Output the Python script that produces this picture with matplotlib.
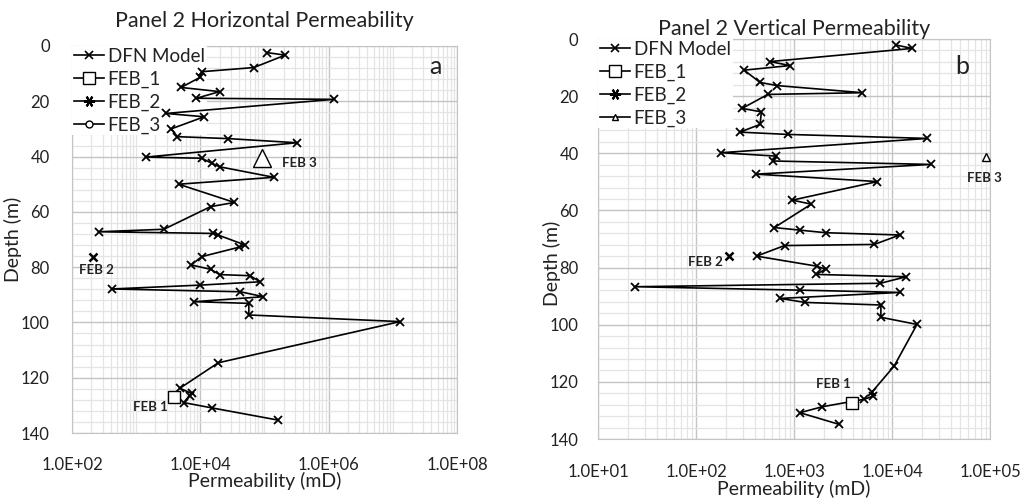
import numpy as np
import matplotlib.pyplot as plt
from matplotlib.lines import Line2D
from matplotlib.ticker import LogLocator, MultipleLocator, FuncFormatter, NullFormatter

plt.rcParams['font.family'] = ['Lato', 'DejaVu Sans']

# -------------------------------------------------------------------------
# Panel a: horizontal permeability (mD) vs depth (m)
# -------------------------------------------------------------------------
depth_h = [2.4, 3.3, 7.8, 9.3, 11.3, 15.0, 16.5, 18.9, 19.3, 24.4, 25.6, 30.0,
           32.8, 33.5, 35.0, 40.2, 40.6, 42.4, 43.7, 47.5, 50.0, 56.6, 58.1,
           66.3, 67.2, 67.8, 68.4, 72.0, 72.8, 76.2, 79.2, 80.8, 82.7, 83.1,
           85.3, 86.5, 87.9, 88.9, 90.7, 92.5, 93.1, 97.3, 99.7, 114.6, 123.8,
           125.7, 126.5, 129.0, 130.9, 135.3]
perm_h = [1.1e5, 2.1e5, 6.8e4, 1.05e4, 1.0e4, 5.0e3, 2.0e4, 8.7e3, 1.2e6, 2.9e3,
          1.15e4, 3.5e3, 4.4e3, 2.7e4, 3.2e5, 1.4e3, 1.05e4, 1.5e4, 2.0e4, 1.4e5,
          4.6e3, 3.4e4, 1.45e4, 2.7e3, 260, 1.6e4, 1.9e4, 5.0e4, 4.0e4, 1.05e4,
          7.2e3, 1.45e4, 2.0e4, 6.0e4, 8.5e4, 1.0e4, 415, 4.2e4, 9.6e4, 8.1e3,
          5.7e4, 5.7e4, 1.3e7, 1.9e4, 4.8e3, 7.3e3, 6.8e3, 5.5e3, 1.5e4, 1.6e5]
feb_h = {'FEB_1': (3.9e3, 127.0), 'FEB_2': (210, 76.2), 'FEB_3': (9.3e4, 40.5)}
xticks_h = [1e2, 1e4, 1e6, 1e8]

# -------------------------------------------------------------------------
# Panel b: vertical permeability (mD) vs depth (m)
# -------------------------------------------------------------------------
depth_v = [2.1, 3.3, 7.9, 9.3, 10.9, 15.2, 16.3, 18.8, 19.4, 24.3, 25.5, 29.9,
           32.6, 33.4, 34.8, 39.8, 41.0, 42.7, 43.9, 47.3, 49.9, 56.4, 57.8,
           66.0, 66.9, 67.8, 68.6, 71.9, 72.3, 76.0, 79.5, 80.6, 82.4, 83.2,
           85.5, 86.7, 87.9, 88.7, 90.8, 92.2, 93.1, 97.4, 99.9, 114.5, 123.7,
           125.0, 126.1, 128.7, 130.8, 134.9]
perm_v = [1.1e4, 1.6e4, 570, 910, 310, 450, 670, 5.0e3, 540, 295, 465, 450,
          280, 870, 2.3e4, 180, 660, 610, 2.5e4, 410, 7.1e3, 960, 1500, 630,
          1150, 2100, 1.2e4, 6.6e3, 800, 415, 1700, 2100, 1670, 1.4e4, 7.6e3,
          24, 1150, 1.2e4, 720, 1300, 7.7e3, 7.7e3, 1.8e4, 1.05e4, 6.2e3,
          6.4e3, 5.2e3, 1950, 1150, 2900]
feb_v = {'FEB_1': (3.9e3, 127.3), 'FEB_2': (215, 75.8), 'FEB_3': (9.1e4, 41.4)}
xticks_v = [1e1, 1e2, 1e3, 1e4, 1e5]

FIG_W, FIG_H = 1023, 499
TXT = '#222222'
fig = plt.figure(figsize=(FIG_W / 100, FIG_H / 100), dpi=100)


def px_box(left, top, right, bottom):
    return [left / FIG_W, 1 - bottom / FIG_H, (right - left) / FIG_W, (bottom - top) / FIG_H]


def sci(v, pos):
    e = int(round(np.log10(v)))
    return f"1.0E+{e:02d}"


def style_axes(ax, xticks, xpad, ypad):
    ax.set_xscale('log')
    ax.set_xlim(xticks[0], xticks[-1])
    ax.set_ylim(140, 0)
    ax.set_xticks(xticks)
    ax.xaxis.set_minor_locator(LogLocator(base=10, subs=np.arange(1, 10), numticks=80))
    ax.xaxis.set_major_formatter(FuncFormatter(sci))
    ax.xaxis.set_minor_formatter(NullFormatter())
    ax.yaxis.set_major_locator(MultipleLocator(20))
    ax.yaxis.set_minor_locator(MultipleLocator(4))
    ax.grid(which='minor', color='#e4e4e4', lw=0.9)
    ax.grid(which='major', color='#c4c4c4', lw=1.0)
    ax.set_axisbelow(True)
    for s in ax.spines.values():
        s.set_color('#c4c4c4')
    ax.tick_params(which='both', length=0, labelsize=12, colors=TXT)
    ax.tick_params(axis='x', pad=xpad)
    ax.tick_params(axis='y', pad=ypad)


def draw_panel(ax, perm, depth, feb, tri_size, offsets):
    ax.plot(perm, depth, color='black', lw=1.2, marker='x', ms=6, mew=1.3, zorder=3)
    x1, y1 = feb['FEB_1']
    x2, y2 = feb['FEB_2']
    x3, y3 = feb['FEB_3']
    ax.plot([x1], [y1], ls='none', marker='s', ms=9, mfc='white', mec='black', mew=1.0, zorder=4)
    ax.plot([x2], [y2], ls='none', marker='x', ms=6, mec='black', mew=1.8, zorder=4)
    ax.plot([x3], [y3], ls='none', marker='^', ms=tri_size, mfc='white', mec='black', mew=1.0,
            zorder=4, clip_on=False)
    for (xv, yv), name, (dx, dy) in zip([(x1, y1), (x2, y2), (x3, y3)],
                                         ['FEB 1', 'FEB 2', 'FEB 3'], offsets):
        ax.annotate(name, (xv, yv), xytext=(dx * 0.72, -dy * 0.72), textcoords='offset points',
                    ha='center', va='center', fontsize=9.5, fontweight='bold', color=TXT)


def add_legend(ax, feb3_marker):
    handles = [
        Line2D([], [], color='black', lw=1.2, marker='x', ms=6, mew=1.2),
        Line2D([], [], color='black', lw=1.2, marker='s', ms=8, mfc='white', mew=1.0),
        Line2D([], [], color='black', lw=1.2, marker=(6, 2, 90), ms=8, mew=1.5),
        Line2D([], [], color='black', lw=1.2, marker=feb3_marker, ms=5, mfc='white', mew=1.0),
    ]
    leg = ax.legend(handles, ['DFN Model', 'FEB_1', 'FEB_2', 'FEB_3'], loc='upper left',
                    fontsize=13.5, handlelength=1.6, handletextpad=0.2, labelspacing=0.3,
                    borderaxespad=0.0, borderpad=0.1, frameon=True, fancybox=False)
    leg.get_frame().set_facecolor('white')
    leg.get_frame().set_edgecolor('none')
    leg.get_frame().set_alpha(1.0)
    leg.set_zorder(2.5)  # above the grid, below the data
    for t in leg.get_texts():
        t.set_color(TXT)


# Panel a
ax1 = fig.add_axes(px_box(72, 46, 457, 433))
style_axes(ax1, xticks_h, xpad=17, ypad=16)
draw_panel(ax1, perm_h, depth_h, feb_h, 13, [(-24, 10), (4, 13), (37, 5)])
add_legend(ax1, 'o')
ax1.set_title('Panel 2 Horizontal Permeability', fontsize=15.5, pad=14, color=TXT)
ax1.set_xlabel('Permeability (mD)', fontsize=14, color=TXT)
ax1.set_ylabel('Depth (m)', fontsize=14, color=TXT)
ax1.xaxis.set_label_coords(0.5, (433 - 472) / 387)
ax1.yaxis.set_label_coords((22 - 72) / 385, 0.5)
fig.text(435 / FIG_W, 1 - 67 / FIG_H, 'a', fontsize=18, ha='center', va='center', color=TXT)

# Panel b
ax2 = fig.add_axes(px_box(598, 39, 990, 439))
style_axes(ax2, xticks_v, xpad=18, ypad=14)
draw_panel(ax2, perm_v, depth_v, feb_v, 6, [(-19, -19), (-23, 6), (-2, 21)])
add_legend(ax2, '^')
ax2.set_title('Panel 2 Vertical Permeability', fontsize=15.5, pad=3, color=TXT)
ax2.set_xlabel('Permeability (mD)', fontsize=14, color=TXT)
ax2.set_ylabel('Depth (m)', fontsize=14, color=TXT)
ax2.xaxis.set_label_coords(0.5, (439 - 480) / 400)
ax2.yaxis.set_label_coords((561 - 598) / 392, (439 - 263) / 400)
fig.text(962 / FIG_W, 1 - 67 / FIG_H, 'b', fontsize=18, ha='center', va='center', color=TXT)

fig.savefig('out.png', dpi=100)
